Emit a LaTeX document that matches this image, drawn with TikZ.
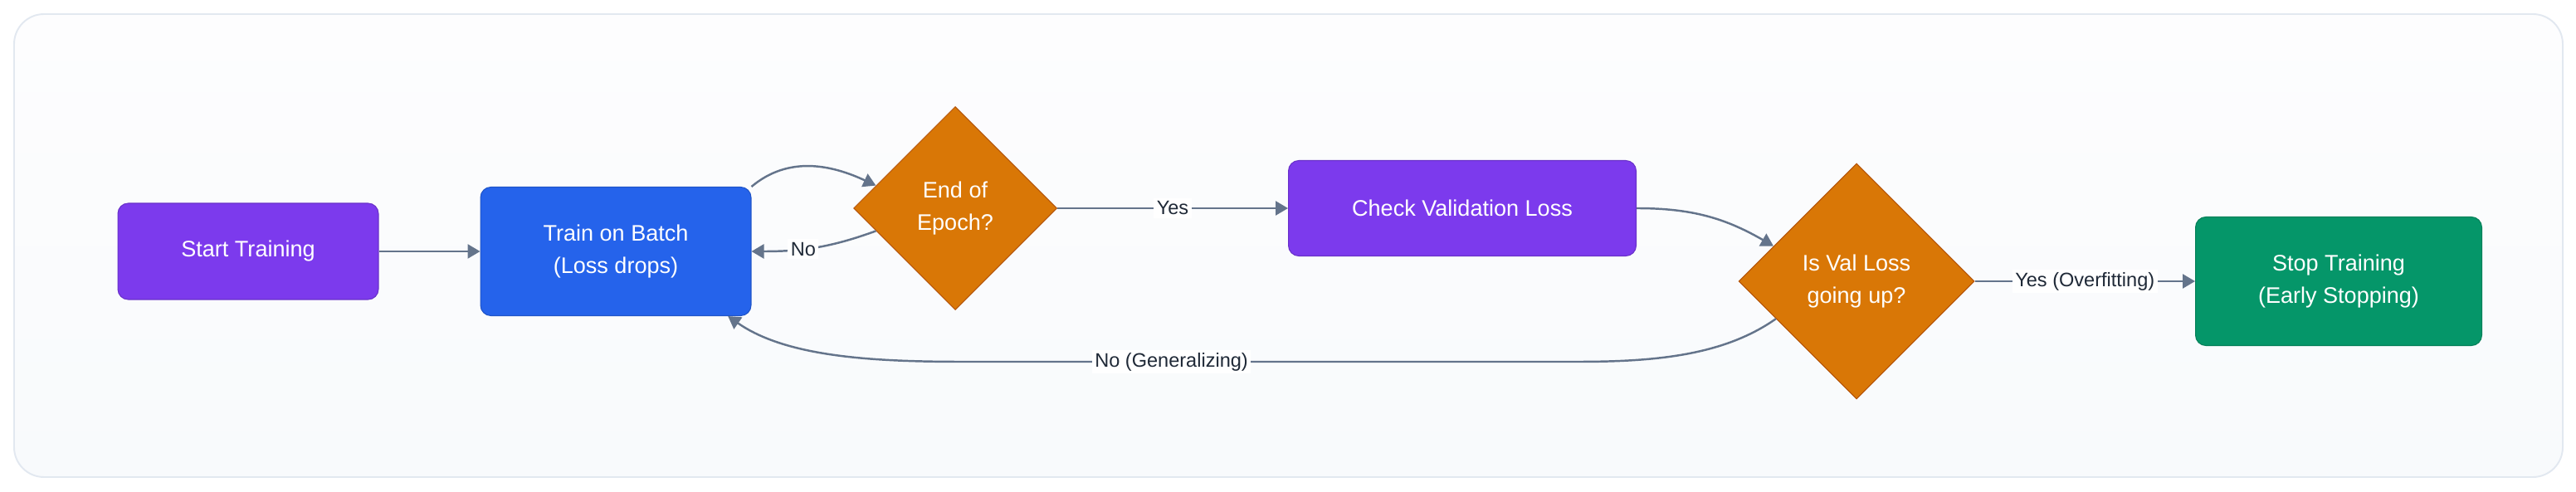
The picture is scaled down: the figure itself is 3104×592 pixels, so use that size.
\documentclass[tikz,border=0pt]{standalone}
\usepackage{fontspec}
\setmainfont{Liberation Sans}
\usetikzlibrary{shapes.geometric,arrows.meta}
\definecolor{violetbox}{HTML}{7C3AED}
\definecolor{bluebox}{HTML}{2563EB}
\definecolor{greenbox}{HTML}{059669}
\definecolor{orangebox}{HTML}{D97706}
\definecolor{orangeedge}{HTML}{B45309}
\definecolor{edgegray}{HTML}{64748B}
\definecolor{labeltext}{HTML}{1F2937}
\definecolor{framegray}{HTML}{E2E8F0}
\definecolor{frametop}{HTML}{FDFDFE}
\definecolor{framebot}{HTML}{F8FAFC}

\begin{document}
\begin{tikzpicture}[x=0.02cm, y=0.02cm,
  box/.style={rectangle, rounded corners=0.25cm, draw=#1!85!black, fill=#1, text=white,
    align=center, line width=0.6pt, font=\fontsize{15.4}{22}\selectfont},
  decision/.style={diamond, aspect=1, inner sep=0pt, draw=orangeedge, fill=orangebox,
    text=white, align=center, line width=0.6pt, font=\fontsize{15.4}{22}\selectfont},
  edge/.style={draw=edgegray, line width=1.4pt, -{Triangle[length=0.3cm,width=0.34cm]}},
  elabel/.style={fill=white, text=labeltext, inner sep=2pt, font=\fontsize{13.4}{16}\selectfont}]
\useasboundingbox (0,0) rectangle (3104,592);
\draw[framegray, line width=1.1pt, rounded corners=0.72cm, top color=frametop, bottom color=framebot] (17,17) rectangle (3088,575);

\node[box=violetbox, minimum width=6.28cm, minimum height=2.32cm] (start) at (299,289) {Start Training};
\node[box=bluebox, minimum width=6.52cm, minimum height=3.1cm] (train) at (742,289) {Train on Batch\\(Loss drops)};
\node[decision, minimum width=4.9cm, minimum height=4.9cm] (epoch) at (1151,341) {End of\\Epoch?};
\node[box=violetbox, minimum width=8.38cm, minimum height=2.3cm] (check) at (1762,341) {Check Validation Loss};
\node[decision, minimum width=5.68cm, minimum height=5.68cm] (isval) at (2237,253) {Is Val Loss\\going up?};
\node[box=greenbox, minimum width=6.9cm, minimum height=3.1cm] (stop) at (2818,253) {Stop Training\\(Early Stopping)};

\draw[edge] (start) -- (train);
\draw[edge] (train.north east) to[out=40,in=155] (epoch.164);
\draw[edge] (epoch.196) to[out=200,in=0] node[elabel,pos=0.6] {No} (train.east);
\draw[edge] (epoch) -- node[elabel] {Yes} (check);
\draw[edge] (check.east) to[out=0,in=150] (isval.157);
\draw[edge] (isval) -- node[elabel] {Yes (Overfitting)} (stop);
\draw[edge] (isval.205) to[out=215,in=0,out looseness=0.8] (1900,156) -- node[elabel,pos=0.66] {No (Generalizing)} (1160,156) to[out=180,in=-35,in looseness=0.75] (train.-30);
\end{tikzpicture}
\end{document}
